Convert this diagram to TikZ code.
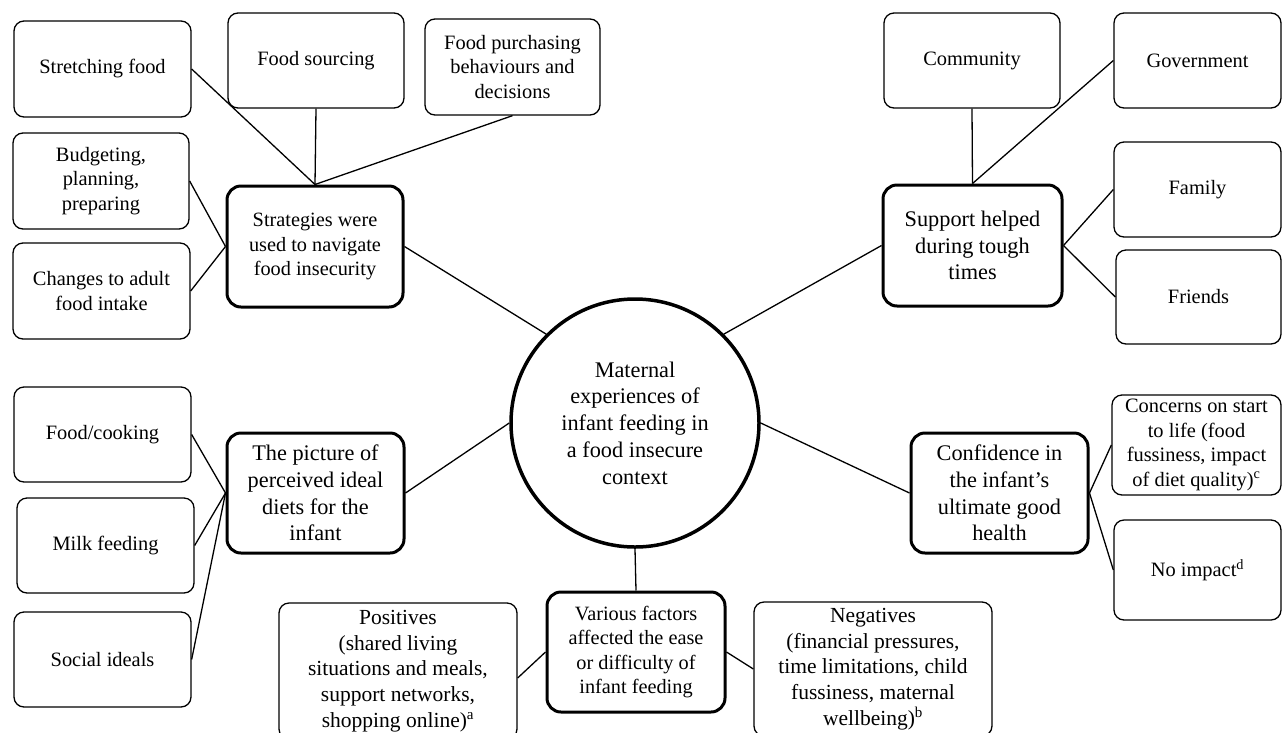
\documentclass[tikz,border=0pt]{standalone}
\usepackage{fontspec}
\setmainfont{Liberation Serif}
\begin{document}
\begin{tikzpicture}[x=1pt,y=-1pt,
  leaf/.style={draw, line width=1.3pt, rounded corners=10pt, inner sep=0pt, align=center,
    font=\fontsize{20.4}{24.5}\selectfont},
  hub/.style={draw, line width=3pt, rounded corners=14pt, inner sep=0pt, align=center,
    font=\fontsize{22.3}{26.7}\selectfont},
  hubs/.style={hub, font=\fontsize{20.3}{24.5}\selectfont},
  pn/.style={leaf, font=\fontsize{21.5}{25.8}\selectfont},
  core/.style={draw, circle, line width=3.5pt, inner sep=0pt, minimum size=248pt, align=center,
    font=\fontsize{22.3}{26.7}\selectfont},
  link/.style={line width=1.3pt}]
\useasboundingbox (0,0) rectangle (1283,732);
\fill[white] (0,0) rectangle (1283,732);
\clip (0,0) rectangle (1283,732);
% sizes helper
\tikzset{sz/.style 2 args={minimum width=#1pt, minimum height=#2pt}}
% central
\node[core] (ci) at (635,423) {Maternal\\experiences of\\infant feeding in\\a food insecure\\context};
% strategies cluster
\node[hubs, sz={176}{121}] (st) at (315,246.5) {Strategies were\\used to navigate\\food insecurity};
\node[leaf, sz={177}{96}] (sf) at (102.5,69) {Stretching food};
\node[leaf, sz={176}{95}] (fs) at (316,60.5) {Food sourcing};
\node[leaf, sz={175}{96}] (fp) at (512.5,67) {Food purchasing\\behaviours and\\decisions};
\node[leaf, sz={176}{96}] (bp) at (101,181) {Budgeting,\\planning,\\preparing};
\node[leaf, sz={177}{96}] (ca) at (101.5,291) {Changes to adult\\food intake};
% support cluster
\node[hub, sz={179}{121}] (su) at (972.5,245.5) {Support helped\\during tough\\times};
\node[leaf, sz={176}{95}] (co) at (972,60.5) {Community};
\node[leaf, sz={167}{95}] (gv) at (1197.5,60.5) {Government};
\node[leaf, sz={167}{95}] (fa) at (1197.5,189.5) {Family};
\node[leaf, sz={165}{94}] (fr) at (1198.5,297) {Friends};
% picture cluster
\node[hub, sz={177}{120}] (pi) at (315.5,493) {The picture of\\perceived ideal\\diets for the\\infant};
\node[leaf, sz={177}{95}] (fc) at (102.5,434.5) {Food/cooking};
\node[leaf, sz={177}{95}] (mf) at (105.5,545.5) {Milk feeding};
\node[leaf, sz={177}{95}] (si) at (102.5,659.5) {Social ideals};
% various cluster
\node[hubs, sz={178}{120}] (va) at (636,652) {Various factors\\affected the ease\\or difficulty of\\infant feeding};
\node[pn, sz={238}{136}] (po) at (398,671) {Positives\\(shared living\\situations and meals,\\support networks,\\shopping online)\textsuperscript{a}};
\node[pn, sz={238}{134}] (ne) at (873,669) {Negatives\\(financial pressures,\\time limitations, child\\fussiness, maternal\\wellbeing)\textsuperscript{b}};
% confidence cluster
\node[hub, sz={177}{120}] (cf) at (999.5,493) {Confidence in\\the infant’s\\ultimate good\\health};
\node[leaf, sz={169}{100}] (cn) at (1196.5,445) {Concerns on start\\to life (food\\fussiness, impact\\of diet quality)\textsuperscript{c}};
\node[leaf, sz={167}{100}] (ni) at (1197.5,570) {No impact\textsuperscript{d}};
% connectors
\draw[link] (sf.east) -- (st.north);
\draw[link] (fs.south) -- (st.north);
\draw[link] (fp.south) -- (st.north);
\draw[link] (bp.east) -- (st.west);
\draw[link] (ca.east) -- (st.west);
\draw[link] (co.south) -- (su.north);
\draw[link] (gv.west) -- (su.north);
\draw[link] (su.east) -- (fa.west);
\draw[link] (su.east) -- (fr.west);
\draw[link] (ci.135) -- (st.east);
\draw[link] (ci.45) -- (su.west);
\draw[link] (ci.west) -- (pi.east);
\draw[link] (ci.east) -- (cf.west);
\draw[link] (ci.south) -- (va.north);
\draw[link] (pi.west) -- (fc.east);
\draw[link] (pi.west) -- (mf.east);
\draw[link] (pi.west) -- (si.east);
\draw[link] (va.west) -- ([yshift=-7pt]po.east);
\draw[link] (va.east) -- (ne.west);
\draw[link] (cf.east) -- (cn.west);
\draw[link] (cf.east) -- (ni.west);
\end{tikzpicture}
\end{document}
